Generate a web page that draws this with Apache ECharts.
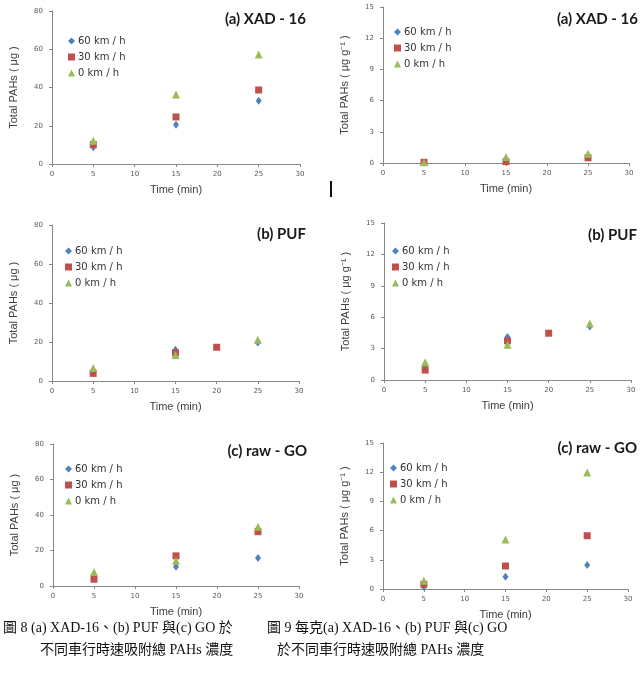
<!DOCTYPE html>
<html>
<head>
<meta charset="utf-8">
<script src="https://cdn.jsdelivr.net/npm/echarts@6/dist/echarts.min.js"></script>
<style>
  html, body { margin: 0; padding: 0; background: #fff; }
  #main { width: 642px; height: 681px; }
</style>
</head>
<body>
<div id="main"></div>
<script>
// sampling times (min)
var times = [5, 15, 25];
var timesPuf30 = [5, 15, 20];

// (a) XAD-16, total mass (ug)
var a60 = [8.7, 20.5, 33.1];
var a30 = [10.1, 24.6, 38.7];
var a0 = [12.1, 36.4, 57.3];
// (a) XAD-16, per gram (ug g-1)
var ag60 = [0.05, 0.2, 0.6];
var ag30 = [0.06, 0.13, 0.5];
var ag0 = [0.08, 0.58, 0.9];

// (b) PUF
var b60 = [5.0, 16.0, 19.8];
var b30 = [3.9, 14.4, 17.3];
var b0 = [6.7, 13.3, 21.2];
var bg60 = [1.3, 4.1, 5.1];
var bg30 = [0.95, 3.74, 4.47];
var bg0 = [1.7, 3.36, 5.4];

// (c) raw - GO
var c60 = [5.0, 10.8, 15.8];
var c30 = [3.8, 17.0, 30.6];
var c0 = [7.9, 14.2, 33.4];
var cg60 = [0.24, 1.26, 2.46];
var cg30 = [0.48, 2.36, 5.47];
var cg0 = [0.85, 5.09, 11.96];

var seriesNames = ['60 km / h', '30 km / h', '0 km / h'];
var colors = ['#4f81bd', '#c0504d', '#9bbb59'];
var symbols = ['diamond', 'rect', 'triangle'];
var symbolSizes = [[6, 8], 7, 8];

var panels = [
  {title: '(a) XAD - 16', unit: 'Total PAHs ( μg )', max: 80, interval: 20,
   grid: {left: 52, top: 11, width: 248, height: 153},
   titlePos: {right: 642 - 306, top: 12}, legendPos: {left: 68, top: 36},
   x: [times, times, times], y: [a60, a30, a0]},
  {title: '(a) XAD - 16', unit: 'Total PAHs ( μg g⁻¹ )', max: 15, interval: 3,
   grid: {left: 383, top: 7, width: 246, height: 156},
   titlePos: {right: 4, top: 12}, legendPos: {left: 394, top: 27},
   x: [times, times, times], y: [ag60, ag30, ag0]},
  {title: '(b) PUF', unit: 'Total PAHs ( μg )', max: 80, interval: 20,
   grid: {left: 52, top: 225, width: 247, height: 156},
   titlePos: {right: 642 - 306, top: 227}, legendPos: {left: 65, top: 246},
   x: [times, timesPuf30, times], y: [b60, b30, b0]},
  {title: '(b) PUF', unit: 'Total PAHs ( μg g⁻¹ )', max: 15, interval: 3,
   grid: {left: 384, top: 223, width: 247, height: 157},
   titlePos: {right: 5, top: 228}, legendPos: {left: 392, top: 246},
   x: [times, timesPuf30, times], y: [bg60, bg30, bg0]},
  {title: '(c) raw - GO', unit: 'Total PAHs ( μg )', max: 80, interval: 20,
   grid: {left: 53, top: 444, width: 246, height: 142},
   titlePos: {right: 642 - 307, top: 444}, legendPos: {left: 65, top: 464},
   x: [times, times, times], y: [c60, c30, c0]},
  {title: '(c) raw - GO', unit: 'Total PAHs ( μg g⁻¹ )', max: 15, interval: 3,
   grid: {left: 383, top: 443, width: 245, height: 146},
   titlePos: {right: 5, top: 441}, legendPos: {left: 390, top: 463},
   x: [times, times, times], y: [cg60, cg30, cg0]}
];

function pairs(xs, ys) {
  var out = [];
  for (var i = 0; i < ys.length; ++i) {
    out.push([xs[i], ys[i]]);
  }
  return out;
}

var grids = [], xAxes = [], yAxes = [], titles = [], legends = [], series = [];
var axisColor = '#868686';
var labelColor = '#595959';

panels.forEach(function(p, idx) {
  grids.push(p.grid);
  xAxes.push({
    gridIndex: idx, type: 'value', min: 0, max: 30, interval: 5,
    name: 'Time (min)', nameLocation: 'middle', nameGap: 20,
    nameTextStyle: {fontFamily: 'Liberation Sans', fontSize: 11, color: '#404040'},
    axisLine: {lineStyle: {color: axisColor}},
    axisTick: {show: true, length: 3, lineStyle: {color: axisColor}},
    axisLabel: {fontFamily: 'DejaVu Sans', fontSize: 7, color: labelColor, margin: 7},
    splitLine: {show: false}
  });
  yAxes.push({
    gridIndex: idx, type: 'value', min: 0, max: p.max, interval: p.interval,
    name: p.unit, nameLocation: 'middle', nameGap: 33,
    nameTextStyle: {fontFamily: 'Liberation Sans', fontSize: 11, color: '#404040'},
    axisLine: {show: true, lineStyle: {color: axisColor}},
    axisTick: {show: true, length: 3, lineStyle: {color: axisColor}},
    axisLabel: {fontFamily: 'DejaVu Sans', fontSize: 7, color: labelColor, margin: 9},
    splitLine: {show: false}
  });
  titles.push({
    text: p.title, right: p.titlePos.right, top: p.titlePos.top, padding: 0,
    textStyle: {fontFamily: 'Lato', fontWeight: 'bold', fontSize: 15, color: '#1a1a1a'}
  });
  legends.push({
    data: seriesNames, orient: 'vertical', left: p.legendPos.left, top: p.legendPos.top,
    padding: 0, itemGap: 6, itemWidth: 7, itemHeight: 7, selectedMode: false,
    textStyle: {fontFamily: 'DejaVu Sans', fontSize: 10, color: '#333', padding: [0, 0, 0, -2]}
  });
  // squares drawn on top, like the original
  var order = [0, 2, 1];
  order.forEach(function(s) {
    series.push({
      name: seriesNames[s], type: 'scatter',
      xAxisIndex: idx, yAxisIndex: idx,
      symbol: symbols[s], symbolSize: symbolSizes[s],
      itemStyle: {color: colors[s], opacity: 1},
      data: pairs(p.x[s], p.y[s]),
      z: 2 + s
    });
  });
});

var captionStyle = {fontFamily: 'Liberation Serif, Noto Sans CJK TC', fontSize: 14, fill: '#111'};
function caption(text, x, y) {
  return {type: 'text', left: x, top: y,
    style: Object.assign({text: text}, captionStyle)};
}

var chart = echarts.init(document.getElementById('main'));
chart.setOption({
  animation: false,
  backgroundColor: '#fff',
  title: titles,
  legend: legends,
  grid: grids,
  xAxis: xAxes,
  yAxis: yAxes,
  series: series,
  graphic: [
    caption('圖 8 (a) XAD-16、(b) PUF 與(c) GO 於', 3, 621),
    caption('不同車行時速吸附總 PAHs 濃度', 40, 643),
    caption('圖 9 每克(a) XAD-16、(b) PUF 與(c) GO', 267, 621),
    caption('於不同車行時速吸附總 PAHs 濃度', 277, 643),
    {type: 'rect', shape: {x: 330, y: 181, width: 2, height: 16}, style: {fill: '#111'}}
  ]
});
</script>
</body>
</html>
